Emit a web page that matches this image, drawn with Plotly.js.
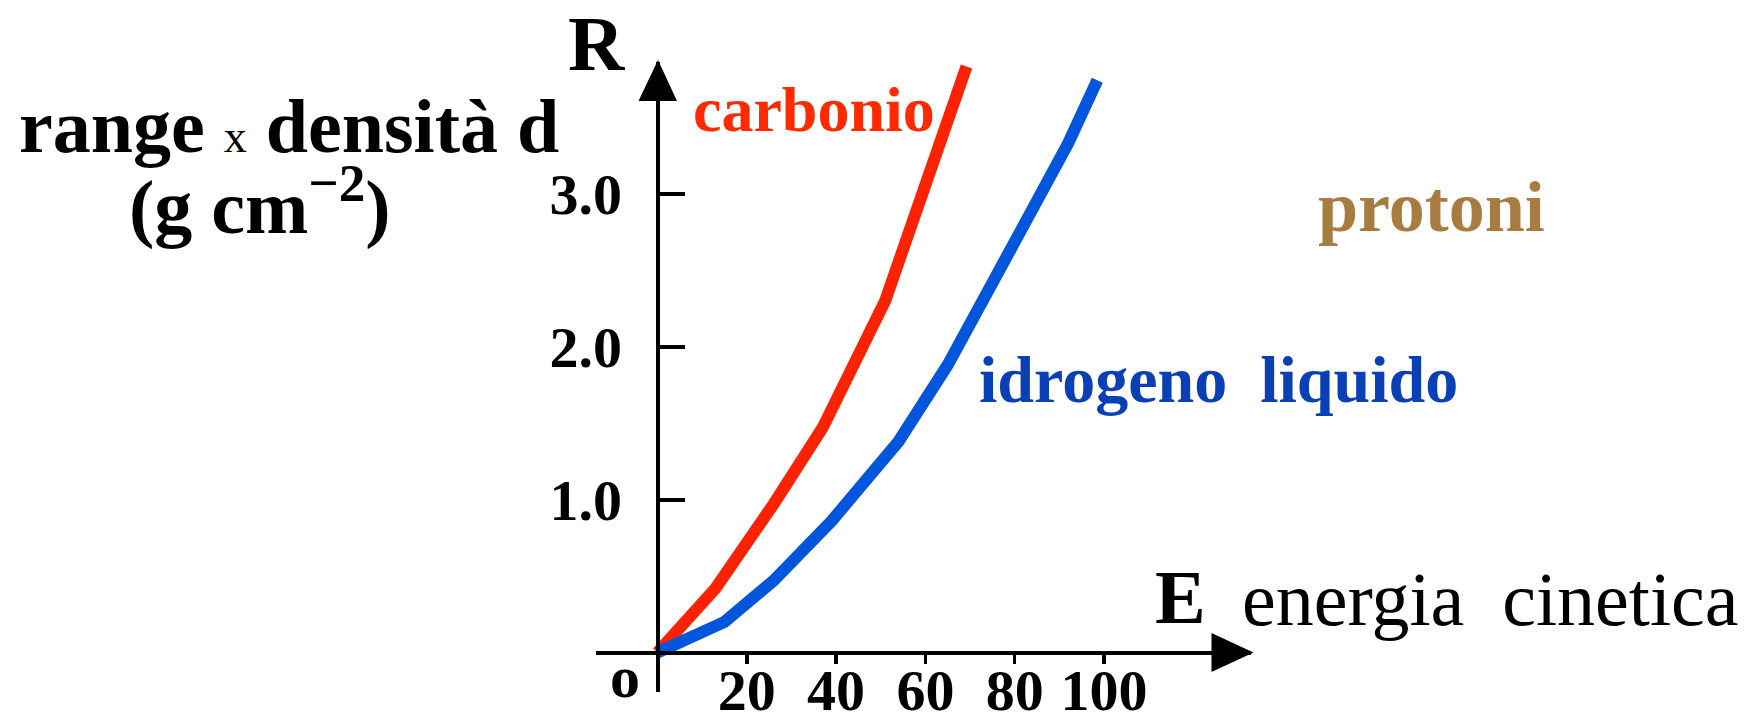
<!DOCTYPE html>
<html><head><meta charset="utf-8">
<script src="https://cdn.plot.ly/plotly-3.0.1.min.js"></script>
<style>html,body{margin:0;padding:0;background:#fff;overflow:hidden}</style>
</head><body><div id="chart" style="width:1749px;height:723px"></div>
<script>
// ---- data ----
const energiaCarbonio = [0, 13, 26, 37, 51, 62, 69.2];
const rangeCarbonio   = [0, 0.42, 0.97, 1.47, 2.30, 3.20, 3.83];
const energiaIdrogeno = [0, 15, 26, 39, 54, 65, 79, 92, 98.5];
const rangeIdrogeno   = [0, 0.20, 0.47, 0.86, 1.38, 1.88, 2.63, 3.33, 3.74];
const xTickVals = [20, 40, 60, 80, 100];
const xTickText = ["20", "40", "60", "80", "100"];
const yTickVals = [1, 2, 3];
const yTickText = ["1.0", "2.0", "3.0"];

// ---- geometry (pixels) ----
const W = 1749, H = 723;
const L = 596, Rr = 1251, T = 62, B = 692;
const X0 = 657.5, KX = 4.465, Y0 = 652.5, KY = 153;
const xRange = [(L - X0) / KX, (Rr - X0) / KX];
const yRange = [(Y0 - B) / KY, (Y0 - T) / KY];
const px = x => (x - L) / (Rr - L);
const py = y => (B - y) / (B - T);

const SERIF = "Liberation Serif, Times New Roman, serif";

function ann(text, cx, cy, size, color, extra) {
  return Object.assign({
    text: text, xref: 'paper', yref: 'paper', x: px(cx), y: py(cy),
    xanchor: 'center', yanchor: 'middle', showarrow: false,
    font: {family: SERIF, size: size, color: color}
  }, extra || {});
}

const traces = [
  {x: energiaCarbonio, y: rangeCarbonio, mode: 'lines', name: 'carbonio',
   line: {color: '#ff2200', width: 12}, hoverinfo: 'skip'},
  {x: energiaIdrogeno, y: rangeIdrogeno, mode: 'lines', name: 'idrogeno liquido',
   line: {color: '#0055dd', width: 12}, hoverinfo: 'skip'}
];

function tri(p1, p2, p3) {
  return `M ${px(p1[0])} ${py(p1[1])} L ${px(p2[0])} ${py(p2[1])} L ${px(p3[0])} ${py(p3[1])} Z`;
}

const layout = {
  width: W, height: H,
  paper_bgcolor: '#ffffff', plot_bgcolor: '#ffffff',
  margin: {l: L, r: W - Rr, t: T, b: H - B, pad: 0},
  showlegend: false,
  xaxis: {
    range: xRange, anchor: 'free', position: (B - Y0) / (B - T),
    showline: true, linecolor: '#000', linewidth: 4,
    showgrid: false, zeroline: false,
    tickmode: 'array', tickvals: xTickVals, ticktext: xTickText,
    ticks: 'outside', ticklen: 9, tickwidth: 3.5, tickcolor: '#000',
    ticklabelstandoff: -23,
    tickfont: {family: SERIF, size: 58, color: '#000', weight: 'bold'},
    fixedrange: true
  },
  yaxis: {
    range: yRange, anchor: 'free', position: (X0 - L) / (Rr - L),
    showline: true, linecolor: '#000', linewidth: 4,
    showgrid: false, zeroline: false,
    tickmode: 'array', tickvals: yTickVals, ticktext: yTickText,
    ticks: 'inside', ticklen: 25, tickwidth: 4, tickcolor: '#000',
    ticklabelstandoff: 22,
    tickfont: {family: SERIF, size: 58, color: '#000', weight: 'bold'},
    fixedrange: true
  },
  shapes: [
    {type: 'path', xref: 'paper', yref: 'paper', fillcolor: '#000', line: {width: 0},
     path: tri([658, 60], [638.5, 101], [677, 101])},
    {type: 'path', xref: 'paper', yref: 'paper', fillcolor: '#000', line: {width: 0},
     path: tri([1253.5, 652.5], [1211.5, 633], [1211.5, 672])}
  ],
  annotations: [
    ann('<b>R</b>', 596.5, 43, 78, '#000'),
    ann('<b>carbonio</b>', 814, 110, 64, '#ff2a00'),
    ann('<b>idrogeno\u00a0\u00a0liquido</b>', 1218, 379, 66, '#0a3fb5'),
    ann('<b>protoni</b>', 1431, 207, 72, '#a87b40'),
    ann('<b>E</b>', 1180.5, 597, 76, '#000'),
    ann('energia\u00a0\u00a0cinetica', 1490.7, 599, 76, '#000'),
    ann('<b>range</b> <span style="font-size:46px">x</span> <b>densità d</b>', 289, 126, 76, '#000'),
    ann('<b>(g cm<sup>\u22122</sup>)</b>', 260, 202, 76, '#000'),
    ann('<b>o</b>', 625, 677, 60, '#000')
  ]
};

Plotly.newPlot('chart', traces, layout, {displayModeBar: false, staticPlot: true});
</script>
</body></html>
